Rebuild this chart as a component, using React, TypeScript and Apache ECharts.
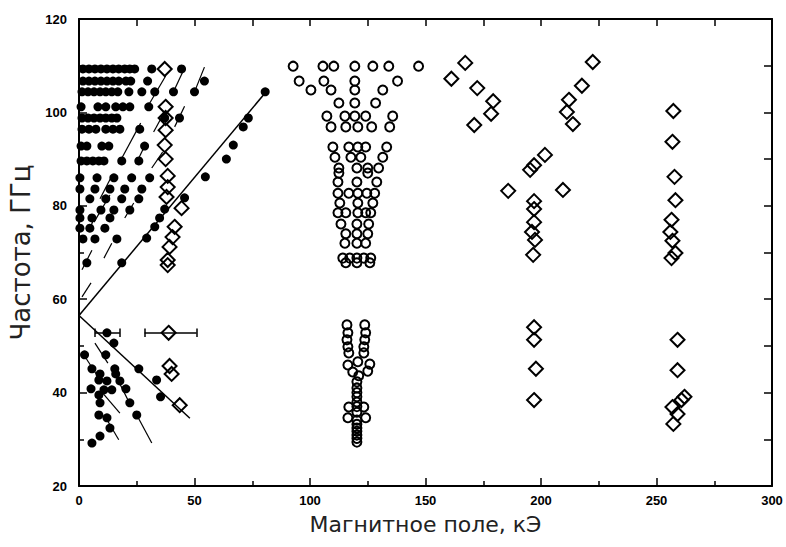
import React, { useEffect, useRef } from 'react';
import * as echarts from 'echarts';

// Axis ranges / ticks
const xMin = 0, xMax = 300, xStep = 50;
const yMin = 20, yMax = 120, yStep = 20;

// Filled dots (upper fan) given as rows: frequency, list of field values
const dotRowFreq = [109.3, 106.7, 104.4, 101.2, 98.8, 96.4, 92.8, 89.6, 86.0, 83.6, 81.5, 79.1, 77.4, 75.2, 72.9, 67.8];
const dotRowFields = [
  [1.7, 4.3, 6.9, 9.5, 12.1, 14.7, 17.2, 19.8, 22.0, 24.1, 31.5, 44.4],
  [1.7, 4.3, 6.9, 9.5, 12.1, 14.7, 17.2, 20.3, 22.4, 29.7, 54.3],
  [1.3, 3.9, 6.5, 9.1, 11.6, 14.2, 16.8, 21.6, 27.2, 32.8, 40.9, 50.0],
  [0.9, 8.2, 11.6, 15.9, 19.0, 22.0, 30.2],
  [1.3, 3.9, 6.5, 9.1, 11.6, 14.2, 16.4, 37.1, 43.5],
  [1.3, 4.3, 7.3, 11.6, 14.7, 17.7, 26.3],
  [0.9, 3.4, 9.9, 12.9, 28.4],
  [0.9, 3.4, 6.0, 8.6, 10.8, 18.5, 25.9],
  [0.4, 7.8, 15.1, 22.8, 30.6],
  [0.4, 6.9, 13.4, 19.8, 27.2],
  [4.7, 11.6, 18.5, 25.9],
  [0.4, 9.5, 15.1, 22.0],
  [0.4, 5.6, 13.4],
  [0.4, 4.7, 11.2],
  [1.7, 6.9, 16.4],
  [3.4],
];

// Filled dots lying along the rising line
const dotsOnLine: [number, number][] = [
  [80.6, 104.4], [73.3, 98.8], [71.1, 96.9], [66.8, 93.0], [63.8, 90.0], [54.7, 86.2],
  [45.7, 81.7], [37.1, 79.3], [34.9, 77.4], [32.8, 75.5], [29.3, 73.1], [18.5, 67.8],
];

// Filled dots, lower branch
const dotsLower: [number, number][] = [
  [12.1, 52.8], [15.1, 50.6], [2.4, 48.1], [11.6, 48.1], [5.6, 45.1], [9.1, 44.0], [8.6, 42.7],
  [12.1, 42.5], [15.5, 45.1], [15.9, 44.0], [17.7, 42.5], [25.9, 45.1], [33.6, 42.7], [35.3, 39.1],
  [5.2, 40.8], [8.6, 39.5], [9.1, 37.8], [10.8, 40.6], [14.2, 40.6], [20.3, 40.8], [22.0, 37.8],
  [25.0, 35.2], [8.6, 35.2], [12.1, 34.6], [13.4, 32.4], [9.1, 30.7], [5.6, 29.2],
];

// Open diamonds
const diamondsLeft: [number, number][] = [
  [37.1, 109.3], [37.5, 101.2], [37.5, 98.8], [37.5, 96.2], [37.1, 93.0], [37.5, 90.0],
  [38.4, 86.4], [38.4, 84.0], [37.9, 81.9], [44.4, 79.5], [41.4, 75.5], [40.5, 73.3],
  [39.2, 71.2], [38.4, 68.4], [38.4, 67.3],
  [38.8, 52.8], [39.2, 45.7], [40.1, 44.0], [43.6, 37.3],
];
const diamondsMid: [number, number][] = [
  [167.2, 110.6], [161.2, 107.2], [172.4, 105.2], [179.3, 102.4], [178.4, 99.7], [171.1, 97.3],
  [222.4, 110.8], [217.7, 105.7], [212.1, 102.7], [211.2, 100.1], [213.8, 97.5],
  [201.7, 90.9], [197.0, 88.7], [195.3, 87.7], [185.8, 83.2], [209.5, 83.4], [197.0, 81.0],
  [197.0, 79.3], [197.0, 76.5], [196.1, 74.4], [197.4, 72.7], [196.6, 69.5],
  [197.0, 54.0], [197.0, 51.3], [197.8, 45.1], [197.0, 38.4],
];
const diamondsRight: [number, number][] = [
  [257.3, 100.3], [256.9, 93.7], [257.8, 86.2], [258.2, 81.2], [256.5, 77.0], [256.0, 74.4],
  [256.9, 72.5], [258.2, 69.9], [256.5, 68.8],
  [259.1, 51.3], [259.1, 44.8], [262.1, 39.1], [260.8, 38.4], [256.9, 36.9], [259.1, 35.4], [257.3, 33.3],
];

// Open circles (upper fan)
const circleRowFreq = [109.9, 106.7, 104.8, 102.0, 99.2, 96.9, 92.6, 90.4, 88.1, 87.0, 85.1, 82.7, 80.6, 78.5, 76.1, 74.0, 72.0, 68.8, 67.8];
const circleRowFields = [
  [92.7, 105.6, 110.3, 119.4, 127.2, 134.1, 147.0],
  [95.3, 106.0, 119.4, 137.9],
  [100.4, 109.1, 119.4, 131.5],
  [112.5, 119.4, 128.4],
  [107.3, 115.1, 119.4, 124.1, 135.8],
  [109.1, 115.5, 120.7, 126.7, 134.5],
  [109.9, 116.8, 120.7, 124.1, 133.2],
  [110.8, 117.7, 122.0, 131.5],
  [112.5, 120.3, 125.0, 129.7],
  [112.5, 125.0],
  [112.1, 120.3, 128.9],
  [112.1, 116.8, 120.7, 124.6, 128.0],
  [112.9, 120.7, 127.2],
  [112.1, 115.5, 120.7, 124.1, 126.3],
  [113.4, 120.3, 125.4],
  [115.5, 120.3, 125.0],
  [115.1, 120.3, 124.1],
  [114.2, 117.2, 120.3, 123.3, 126.3],
  [115.5, 120.3, 125.9],
];

// Open circles (lower column)
const circlesLower: [number, number][] = [
  [116.0, 54.5], [116.4, 52.8], [116.0, 51.3], [116.4, 49.8], [116.8, 48.5],
  [123.7, 54.5], [124.1, 52.8], [123.7, 51.3], [123.3, 49.8], [123.3, 48.5],
  [120.7, 46.6], [116.4, 45.9], [125.9, 46.1], [118.5, 44.4], [125.0, 44.6], [121.1, 43.6],
  [120.3, 42.3], [120.3, 41.0], [120.3, 39.1], [120.3, 38.0], [116.8, 36.9], [123.3, 36.9],
  [120.3, 35.8], [116.4, 34.6], [124.1, 34.6], [120.3, 34.1], [120.3, 32.4], [120.3, 30.9],
  [120.3, 29.4], [120.3, 30.2], [120.3, 31.7], [120.3, 33.2], [120.3, 40.0], [120.3, 37.0],
];

// Guide lines from the common vertex
const guideLines: [number, number][][] = [
  [[0, 56.5], [82, 105]],
  [[0, 56.5], [48, 34.5]],
];

// Short slanted segments
const shortSegments: [number, number][][] = [
  [[29.7, 101.2], [37.5, 107.8]],
  [[40.9, 104.4], [45.7, 109.5]],
  [[50.0, 104.4], [54.3, 109.7]],
  [[41.4, 96.9], [45.7, 101.3]],
  [[32.3, 95.8], [36.6, 99.7]],
  [[18.1, 89.8], [26.7, 97.7]],
  [[24.6, 88.9], [28.4, 92.8]],
  [[31.5, 88.1], [36.2, 91.5]],
  [[9.1, 81.5], [14.2, 86.4]],
  [[6.5, 76.5], [13.4, 82.3]],
  [[19.8, 77.4], [23.7, 80.6]],
  [[4.3, 74.8], [6.9, 77.6]],
  [[10.8, 68.8], [14.2, 72.0]],
  [[1.3, 66.3], [5.6, 70.5]],
  [[1.3, 60.5], [5.2, 63.5]],
  [[6.9, 50.6], [12.5, 46.3]],
  [[1.3, 48.7], [9.1, 42.7]],
  [[14.2, 45.3], [22.0, 37.6]],
  [[9.9, 40.1], [17.7, 35.6]],
  [[25.0, 35.2], [31.5, 29.2]],
  [[11.6, 34.6], [17.2, 29.9]],
];

// Horizontal error bars: [y, xLow, xHigh]
const errorBars: [number, number, number][] = [
  [52.8, 6.9, 17.7],
  [52.8, 28.4, 50.9],
];

const INK = '#000';

export default function App() {
  const ref = useRef<HTMLDivElement>(null);

  useEffect(() => {
    if (!ref.current) return;
    const chart = echarts.init(ref.current, null, { renderer: 'svg' });

    const dotsUpper: [number, number][] = [];
    dotRowFreq.forEach((f, i) => dotRowFields[i].forEach((x) => dotsUpper.push([x, f])));
    const circlesUpper: [number, number][] = [];
    circleRowFreq.forEach((f, i) => circleRowFields[i].forEach((x) => circlesUpper.push([x, f])));

    const errSegs: { coords: [number, number][] }[] = [];
    errorBars.forEach(([y, a, b]) => {
      errSegs.push({ coords: [[a, y], [b, y]] });
      errSegs.push({ coords: [[a, y - 0.9], [a, y + 0.9]] });
      errSegs.push({ coords: [[b, y - 0.9], [b, y + 0.9]] });
    });

    const font = 'Liberation Sans, Arial, sans-serif';
    const nameFont = 'DejaVu Sans, sans-serif';
    const tickLabel = { fontSize: 13, fontWeight: 'bold' as const, color: INK, fontFamily: font };

    const openStyle = { color: 'rgba(255,255,255,0)', borderColor: INK, borderWidth: 2, opacity: 1 };

    chart.setOption({
      animation: false,
      backgroundColor: '#fff',
      grid: { left: 77, right: 14, top: 19, bottom: 61, containLabel: false },
      xAxis: [
        {
          type: 'value', min: xMin, max: xMax, interval: xStep, position: 'bottom',
          axisLine: { show: true, onZero: false, lineStyle: { color: INK, width: 2 } },
          axisTick: { show: true, inside: true, length: 8, lineStyle: { color: INK, width: 1.5 } },
          minorTick: { show: true, splitNumber: 2, length: 5, lineStyle: { color: INK, width: 1.5 } },
          splitLine: { show: false },
          axisLabel: { ...tickLabel, margin: 8 },
          name: 'Магнитное поле, кЭ', nameLocation: 'middle', nameGap: 27,
          nameTextStyle: { fontSize: 22, color: '#222', fontFamily: nameFont },
        },
        {
          type: 'value', min: xMin, max: xMax, interval: 25, position: 'top',
          axisLine: { show: true, onZero: false, lineStyle: { color: INK, width: 2 } },
          axisTick: { show: true, inside: true, length: 7, lineStyle: { color: INK, width: 1.5 } },
          splitLine: { show: false },
          axisLabel: { show: false },
        },
      ],
      yAxis: [
        {
          type: 'value', min: yMin, max: yMax, interval: yStep, position: 'left',
          axisLine: { show: true, onZero: false, lineStyle: { color: INK, width: 2 } },
          axisTick: { show: true, inside: true, length: 8, lineStyle: { color: INK, width: 1.5 } },
          minorTick: { show: true, splitNumber: 2, length: 5, lineStyle: { color: INK, width: 1.5 } },
          splitLine: { show: false },
          axisLabel: { ...tickLabel, margin: 12 },
          name: 'Частота, ГГц', nameLocation: 'middle', nameGap: 45,
          nameTextStyle: { fontSize: 26, color: '#222', fontFamily: nameFont },
        },
        {
          type: 'value', min: yMin, max: yMax, interval: 10, position: 'right',
          axisLine: { show: true, onZero: false, lineStyle: { color: INK, width: 2 } },
          axisTick: { show: true, inside: true, length: 8, lineStyle: { color: INK, width: 1.5 } },
          splitLine: { show: false },
          axisLabel: { show: false },
        },
      ],
      series: [
        {
          type: 'lines', coordinateSystem: 'cartesian2d', xAxisIndex: 0, yAxisIndex: 0, silent: true,
          data: guideLines.map((c) => ({ coords: c })),
          lineStyle: { color: INK, width: 1.5, opacity: 1 }, z: 1,
        },
        {
          type: 'lines', coordinateSystem: 'cartesian2d', xAxisIndex: 0, yAxisIndex: 0, silent: true,
          data: shortSegments.map((c) => ({ coords: c })),
          lineStyle: { color: INK, width: 1.2, opacity: 1 }, z: 1,
        },
        {
          type: 'lines', coordinateSystem: 'cartesian2d', xAxisIndex: 0, yAxisIndex: 0, silent: true,
          data: errSegs,
          lineStyle: { color: INK, width: 1.5, opacity: 1 }, z: 1,
        },
        {
          type: 'scatter', xAxisIndex: 0, yAxisIndex: 0, symbol: 'circle', symbolSize: 9,
          data: [...dotsUpper, ...dotsOnLine, ...dotsLower],
          itemStyle: { color: INK, opacity: 1 }, z: 3,
        },
        {
          type: 'scatter', xAxisIndex: 0, yAxisIndex: 0, symbol: 'circle', symbolSize: 9,
          data: [...circlesUpper, ...circlesLower],
          itemStyle: openStyle, z: 3,
        },
        {
          type: 'scatter', xAxisIndex: 0, yAxisIndex: 0, symbol: 'diamond', symbolSize: 14,
          data: [...diamondsLeft, ...diamondsMid, ...diamondsRight],
          itemStyle: openStyle, z: 3,
        },
      ],
    });

    return () => chart.dispose();
  }, []);

  return (
    <div
      ref={ref}
      style={{ position: 'fixed', left: 0, top: 0, width: 786, height: 547, background: '#fff' }}
    />
  );
}
